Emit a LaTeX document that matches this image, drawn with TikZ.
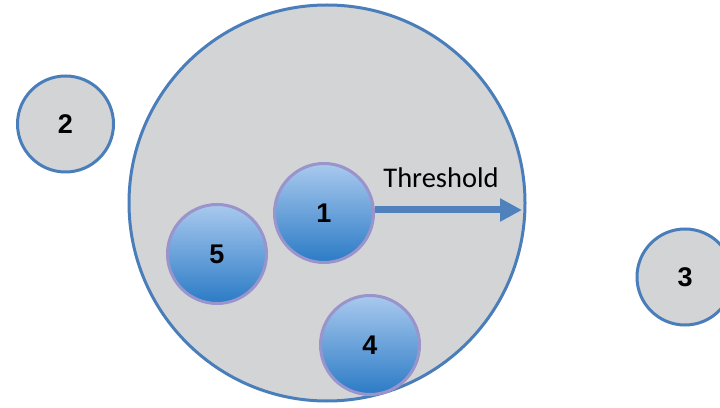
\documentclass[tikz,border=0pt]{standalone}
\usepackage{fontspec}
\setmainfont{Liberation Sans}
\newfontfamily\calib{Carlito}
\usetikzlibrary{arrows.meta}
\definecolor{ringblue}{HTML}{4A7EBB}
\definecolor{greyfill}{HTML}{D3D4D6}
\definecolor{lav}{HTML}{9A94CC}
\definecolor{btop}{HTML}{A9C9EE}
\definecolor{bmid}{HTML}{79ADE0}
\definecolor{bbot}{HTML}{2B7BC6}
\definecolor{arrowblue}{HTML}{4F81BD}
\tikzset{
  greyball/.style={circle, draw=ringblue, line width=3pt, fill=greyfill, inner sep=0pt, font=\fontsize{27}{27}\selectfont\bfseries},
  blueball/.style={circle, draw=lav, line width=3pt, top color=btop, middle color=bmid, bottom color=bbot, inner sep=0pt, minimum size=99pt, font=\fontsize{27}{27}\selectfont\bfseries},
}
\begin{document}
\begin{tikzpicture}[x=1pt,y=1pt]
\useasboundingbox (0,0) rectangle (720,407);
\clip (0,0) rectangle (720,407);
\fill[white] (0,0) rectangle (720,407);
\node[greyball, minimum size=396pt] (big) at (327,204) {};
\node[greyball, minimum size=96pt] (c2) at (65.5,283) {2};
\node[greyball, minimum size=96pt] (c3) at (685,130) {3};
\node[blueball] (c1) at (324,194) {1};
\node[blueball] (c5) at (217,153) {5};
\node[blueball] (c4) at (370,62) {4};
\coordinate (tip) at (522,197);
\draw[arrowblue, line width=7pt, -{Triangle[length=22pt,width=22pt]}] (c1.east |- tip) -- (tip);
\node[font=\calib\fontsize{28.5}{28.5}\selectfont, anchor=base] (thr) at (441,219) {Threshold};
\end{tikzpicture}
\end{document}
